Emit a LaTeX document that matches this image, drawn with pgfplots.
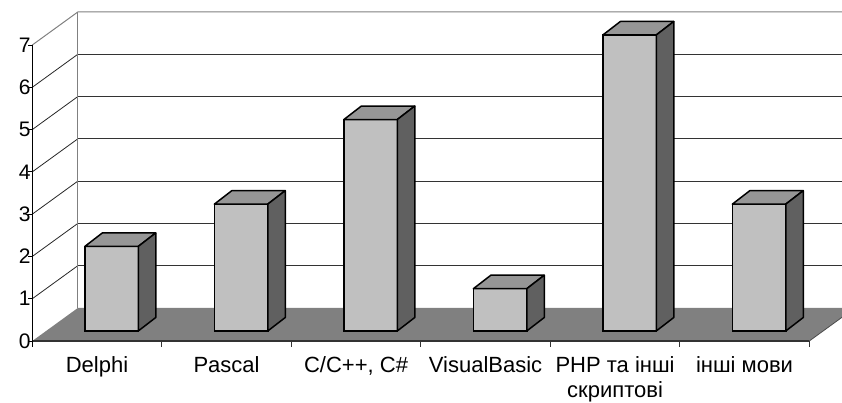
\documentclass[border=0pt]{standalone}
\usepackage{pgfplots}
\pgfplotsset{compat=1.18}
\usepackage{fontspec}
\setmainfont{Liberation Sans}
\definecolor{frontc}{RGB}{192,192,192}
\definecolor{topc}{RGB}{150,150,150}
\definecolor{sidec}{RGB}{96,96,96}
\definecolor{floorc}{RGB}{128,128,128}
\definecolor{wallc}{RGB}{128,128,128}
\pgfdeclareplotmark{nothing}{}
\pgfplotstableread{
x v
0.5 2
1.5 3
2.5 5
3.5 1
4.5 7
5.5 3
}\bars
\begin{document}
\begin{tikzpicture}[x=1pt,y=1pt]
% ---- 3D frame (unit: 1pt = 1px of the reference; origin = front corner of floor)
\def\u{42.2857}
\def\dx{45.5}
\def\dy{33}
% back-wall grid lines
\foreach \k in {1,...,6}{
  \draw[black!80, line width=0.8pt] ({\dx},{\dy+\k*\u}) -- (840,{\dy+\k*\u});
  \draw[black!85, line width=0.8pt] (0,{\k*\u}) -- ({\dx},{\dy+\k*\u});
}
% wall borders
\draw[wallc, line width=1pt] (0,296) -- ({\dx},{\dy+296}) -- (840,{\dy+296});
\draw[wallc, line width=1pt] ({\dx},{\dy}) -- ({\dx},{\dy+296});
% floor
\fill[floorc] (0,0) -- (777,0) -- ({777+\dx},{\dy}) -- ({\dx},{\dy}) -- cycle;
\draw[black!70, line width=0.8pt] (777,0) -- ({777+\dx},{\dy});
\draw[black!80, line width=2pt] (0,0) -- (777,0);
% axis line and category boundary ticks
\draw[black, line width=1pt] (0,-6) -- (0,296);
\foreach \i in {1,...,6}{
  \draw[black!80, line width=0.8pt] ({\i*129.5},0) -- ({\i*129.5},-6);
}
\begin{axis}[
  at={(0pt,0pt)}, anchor=origin,
  scale only axis, width=777pt, height=296pt,
  xmin=0, xmax=6, ymin=0, ymax=7,
  axis line style={draw=none},
  clip=false,
  /pgf/number format/assume math mode=true,
  ytick={0,...,7},
  tick align=outside,
  major tick length=4pt,
  ytick pos=left,
  tick style={black, line width=0.8pt},
  yticklabel style={font=\fontsize{21}{24}\selectfont, anchor=east, inner sep=0pt, xshift=2.5pt},
  xtick=\empty,
  extra x ticks={0.5,1.5,2.5,3.5,4.5,5.5},
  extra x tick labels={Delphi, Pascal, {C/C++, C\#}, VisualBasic, {PHP та інші\\скриптові}, інші мови},
  extra x tick style={major tick length=0pt, tick style={draw=none}},
  xticklabel style={font=\fontsize{22}{25}\selectfont, align=center, anchor=north, inner sep=0pt, yshift=-15pt},
]
\addplot[
  scatter, only marks, mark=nothing,
  visualization depends on={\thisrow{v} \as \val},
  scatter/@pre marker code/.code={%
    \pgfmathsetmacro\yb{10-\val*42.2857}%
    \pgfmathsetmacro\ybb{\yb+13.5}%
    \filldraw[fill=frontc, draw=black, line width=1.5pt] (-12.2pt,\yb pt) rectangle (41.2pt,10pt);
    \filldraw[fill=topc, draw=black, line width=1.5pt, line join=round] (-12.2pt,10pt) -- (41.2pt,10pt) -- (58.7pt,23.5pt) -- (5.3pt,23.5pt) -- cycle;
    \filldraw[fill=sidec, draw=black, line width=1.5pt, line join=round] (41.2pt,\yb pt) -- (41.2pt,10pt) -- (58.7pt,23.5pt) -- (58.7pt,\ybb pt) -- cycle;
  },
  scatter/@post marker code/.code={},
] table[x=x, y=v] {\bars};
\end{axis}
\pgfresetboundingbox
\useasboundingbox (-32.3,-62) rectangle (809.7,341);
\end{tikzpicture}
\end{document}
